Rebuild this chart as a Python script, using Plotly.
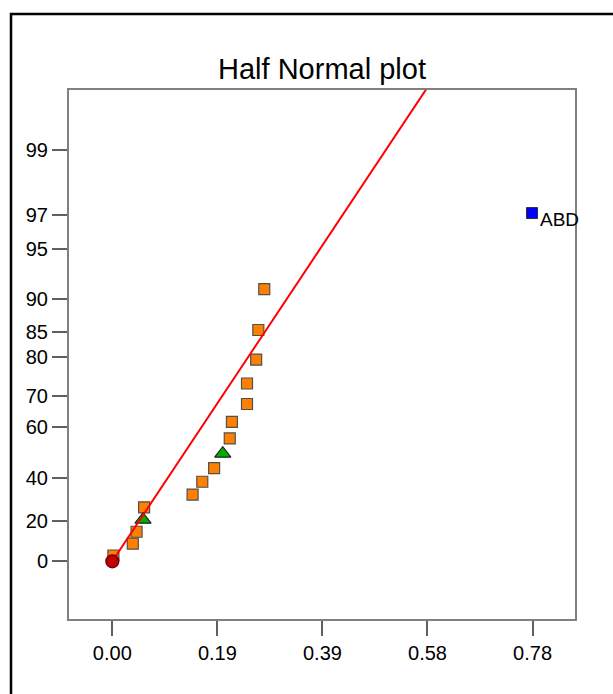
import plotly.graph_objects as go
from statistics import NormalDist

# ---- data ----
sq_effect = [0.002, 0.038, 0.045, 0.059, 0.149, 0.167, 0.189, 0.218, 0.222,
             0.250, 0.250, 0.267, 0.271, 0.282]
sq_pct = [2.9, 8.8, 14.7, 26.5, 32.4, 38.2, 44.1, 55.9, 61.8, 67.6, 73.5,
          79.4, 85.3, 91.2]
tri_effect = [0.057, 0.205]
tri_pct = [20.6, 50.0]
abd_effect = [0.779]
abd_pct = [97.1]
abd_label = ["ABD"]
origin_effect = [0.0]
origin_pct = [0.0]

fit_effect = [0.0, 0.65]
fit_slope = 5.08  # half-normal z per unit effect

x_tick_vals = [0.0, 0.195, 0.39, 0.585, 0.78]
x_tick_text = ["0.00", "0.19", "0.39", "0.58", "0.78"]
y_tick_pct = [0, 20, 40, 60, 70, 80, 85, 90, 95, 97, 99]

nd = NormalDist()


def hn(p):
    return nd.inv_cdf(0.5 + p / 200.0)


FONT = "Liberation Sans, Arial, sans-serif"

fig = go.Figure()
fig.add_trace(go.Scatter(
    x=sq_effect, y=[hn(p) for p in sq_pct], mode="markers",
    marker=dict(symbol="square", size=11, color="#FF8000",
                line=dict(color="#505050", width=1.2)),
    showlegend=False, hoverinfo="skip"))
fig.add_trace(go.Scatter(
    x=tri_effect, y=[hn(p) for p in tri_pct], mode="markers",
    marker=dict(symbol="triangle-up", size=14, color="#00B000",
                line=dict(color="#202020", width=1.2)),
    showlegend=False, hoverinfo="skip"))
fig.add_trace(go.Scatter(
    x=fit_effect, y=[fit_slope * e for e in fit_effect], mode="lines",
    line=dict(color="#FF0000", width=2),
    showlegend=False, hoverinfo="skip"))
fig.add_trace(go.Scatter(
    x=abd_effect, y=[hn(p) for p in abd_pct], mode="markers",
    marker=dict(symbol="square", size=11, color="#0000FF",
                line=dict(color="#303030", width=1)),
    showlegend=False, hoverinfo="skip"))
fig.add_trace(go.Scatter(
    x=origin_effect, y=[hn(p) for p in origin_pct], mode="markers",
    marker=dict(symbol="circle", size=13, color="#C00000",
                line=dict(color="#600000", width=1.2)),
    showlegend=False, hoverinfo="skip"))

for e, p, t in zip(abd_effect, abd_pct, abd_label):
    fig.add_annotation(x=e, y=hn(p), text=t, showarrow=False,
                       xanchor="left", yanchor="middle", xshift=6, yshift=-6,
                       font=dict(family=FONT, size=19, color="black"))

axis_common = dict(showgrid=False, zeroline=False, showline=True,
                   linecolor="#808080", linewidth=2, mirror=True,
                   ticks="outside", ticklen=15, tickwidth=1.5,
                   tickcolor="#606060",
                   tickfont=dict(family=FONT, size=20, color="black"))

fig.update_xaxes(range=[-0.0804, 0.8588], tickmode="array",
                 tickvals=x_tick_vals, ticktext=x_tick_text, **axis_common)
fig.update_yaxes(range=[-0.3618, 2.955], tickmode="array",
                 tickvals=[hn(p) for p in y_tick_pct],
                 ticktext=[str(p) for p in y_tick_pct], **axis_common)

# outer frame
fig.add_shape(type="rect", xref="paper", yref="paper",
              x0=(11 - 69) / 506, x1=2.0, y0=-1.0, y1=(619 - 14) / 529,
              line=dict(color="black", width=2.5), layer="above")

fig.update_layout(
    width=613, height=694,
    margin=dict(l=69, r=38, t=90, b=75),
    paper_bgcolor="white", plot_bgcolor="white",
    title=dict(text="Half Normal plot", x=0.5, xref="paper", xanchor="center",
               y=1 - 68.5 / 694, yref="container", yanchor="middle",
               font=dict(family=FONT, size=29, color="black")),
)

fig.write_html("out.html")
